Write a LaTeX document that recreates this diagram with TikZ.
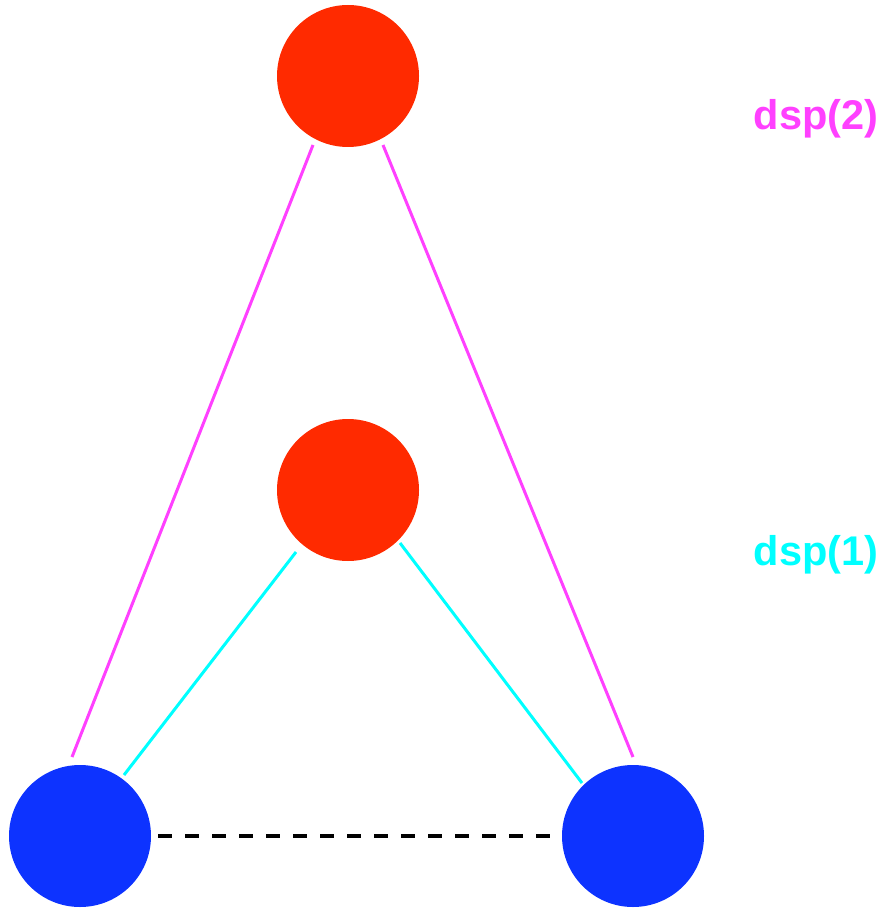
\documentclass[tikz,border=0pt]{standalone}
\usepackage{fontspec}
\setmainfont{Liberation Sans}
\usetikzlibrary{calc}
\definecolor{redball}{RGB}{255,42,0}
\definecolor{blueball}{RGB}{13,51,255}
\definecolor{magline}{RGB}{255,64,255}
\definecolor{cyanline}{RGB}{0,255,255}
\tikzset{
  redcirc/.style={circle,fill=redball,draw=none,minimum size=142pt,inner sep=0pt},
  bluecirc/.style={circle,fill=blueball,draw=none,minimum size=142pt,inner sep=0pt},
  dsptwo/.style={draw=magline,line width=3pt},
  dspone/.style={draw=cyanline,line width=3pt},
  dashlink/.style={draw=black,line width=3.5pt,dash pattern=on 13.5pt off 13.5pt},
  lbl/.style={anchor=base,inner sep=0pt,font=\fontsize{41.5}{50}\selectfont\bfseries}
}
\begin{document}
\begin{tikzpicture}[x=1pt,y=-1pt]
\useasboundingbox (0,0) rectangle (883,909);
\node[redcirc] (top) at (348,76) {};
\node[redcirc] (mid) at (348,490) {};
\node[bluecirc] (bl) at (80,836) {};
\node[bluecirc] (br) at (633,836) {};
\draw[dsptwo] ($(top)+(-35,69)$) -- ($(bl)+(-8,-79)$);
\draw[dsptwo] ($(top)+(35,69)$) -- ($(br)+(0,-79)$);
\draw[dspone] ($(mid)+(-52,62)$) -- ($(bl)+(44,-61)$);
\draw[dspone] ($(mid)+(52,53)$) -- ($(br)+(-51,-53)$);
\draw[dashlink] ($(bl)+(78,0)$) -- ($(br)+(-77,0)$);
\node[lbl,text=magline] (l2) at (816,130) {dsp(2)};
\node[lbl,text=cyanline] (l1) at (816,565) {dsp(1)};
\end{tikzpicture}
\end{document}
